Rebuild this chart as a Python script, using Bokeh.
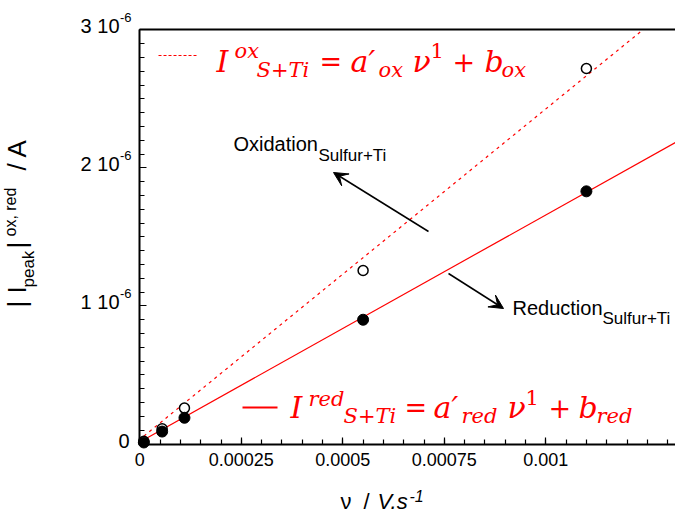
import math
from bokeh.plotting import figure
from bokeh.models import (Range1d, LinearAxis, FixedTicker, CustomJSTickFormatter,
                          Label, Arrow, VeeHead)
from bokeh.embed import file_html
from bokeh.resources import INLINE

# ---------------- data ----------------
scan_rate = [0.00001, 0.000055, 0.00011, 0.00055, 0.0011]          # V/s
i_ox = [0.02e-6, 0.11e-6, 0.26e-6, 1.257e-6, 2.72e-6]              # A (open circles)
i_red = [0.011e-6, 0.09e-6, 0.19e-6, 0.90e-6, 1.83e-6]             # A (filled circles)
fit_ox = [2.394e-3, 0.033e-6]    # slope, intercept
fit_red = [1.644e-3, 0.015e-6]   # slope, intercept
x_ticks = [0, 0.00025, 0.0005, 0.00075, 0.001]
x_minor = [k * 0.00005 for k in range(0, 28)]
y_ticks = [0, 1e-6, 2e-6, 3e-6]
y_tick_mant = ["0", "1 10", "2 10", "3 10"]
y_tick_exp = ["", "-6", "-6", "-6"]
y_minor = [k * 1e-7 for k in range(0, 31)]
Y_TOP = 3e-6

# ---------------- layout (canvas pixels -> data) ----------------
W, H = 675, 514
AX_X0, AX_Y0 = 139.3, 443.5       # pixel of x=0 / y=0
PX_PER_X = 406.0 / 1e-3
PX_PER_Y = 138.07 / 1e-6
SHIFT = 10                        # compensates label baseline placement
SHIFT_ROT = 16

def dx(px):
    return (px - AX_X0) / PX_PER_X

def dy(py):
    return (AX_Y0 - py) / PX_PER_Y

X_RIGHT = dx(W)
RED = "#ff0000"
SANS = "Liberation Sans"
SERIF = "DejaVu Serif"

p = figure(width=W, height=H, output_backend="svg", toolbar_location=None,
           x_range=Range1d(dx(0), dx(W)), y_range=Range1d(dy(H), dy(0)),
           min_border_left=0, min_border_right=0, min_border_top=0,
           min_border_bottom=0, x_axis_type=None, y_axis_type=None)
p.outline_line_color = None
p.grid.visible = False
p.background_fill_color = "white"

xaxis = LinearAxis(ticker=FixedTicker(ticks=x_ticks, minor_ticks=x_minor),
                   fixed_location=0, bounds=(0, X_RIGHT),
                   formatter=CustomJSTickFormatter(code="return String(Number(tick.toPrecision(6)));"))
yaxis = LinearAxis(ticker=FixedTicker(ticks=y_ticks, minor_ticks=y_minor),
                   fixed_location=0, bounds=(0, Y_TOP),
                   formatter=CustomJSTickFormatter(code="return '';"))
for ax in (xaxis, yaxis):
    ax.axis_line_width = 2
    ax.axis_line_color = "black"
    ax.major_tick_in = 7
    ax.major_tick_out = 0
    ax.minor_tick_in = 5
    ax.minor_tick_out = 0
    ax.major_tick_line_width = 1.2
    ax.minor_tick_line_width = 1.2
    ax.major_label_text_font = SANS
    ax.major_label_text_font_size = "18px"
    ax.major_label_text_color = "black"
xaxis.major_label_standoff = 9
yaxis.major_label_text_font_size = "0px"
p.add_layout(xaxis, "below")
p.add_layout(yaxis, "left")
top = LinearAxis(ticker=FixedTicker(ticks=[]), fixed_location=Y_TOP, bounds=(0, X_RIGHT),
                 major_label_text_font_size="0px", axis_line_width=2,
                 major_tick_line_color=None, minor_tick_line_color=None)
p.add_layout(top, "above")

# ---------------- fit lines ----------------
ox_end = min(X_RIGHT, (Y_TOP - fit_ox[1]) / fit_ox[0])
fx_ox = [scan_rate[0], ox_end]
fx_red = [scan_rate[0], X_RIGHT]
p.line(fx_ox, [fit_ox[0] * x + fit_ox[1] for x in fx_ox], line_color=RED, line_width=1.2,
       line_dash="3 4")
p.line(fx_red, [fit_red[0] * x + fit_red[1] for x in fx_red], line_color=RED, line_width=1.2)

# ---------------- points ----------------
p.scatter(scan_rate, i_ox, size=10, marker="circle", fill_color="white",
          line_color="black", line_width=1.5)
p.scatter(scan_rate, i_red, size=11, marker="circle", fill_color="black",
          line_color="black")

# ---------------- legend swatches ----------------
p.line([dx(158), dx(196)], [dy(55), dy(55)], line_color=RED, line_width=1, line_dash="3 2")
p.line([dx(242), dx(277)], [dy(407), dy(407)], line_color=RED, line_width=2)

def lab(text, xp, yp, size, font=SANS, style="normal", color="black", angle=0,
        align="left", y_data=None):
    if angle == 0:
        yy = dy(yp - SHIFT) if y_data is None else y_data + SHIFT / PX_PER_Y
        xx = dx(xp)
    else:
        yy = dy(yp)
        xx = dx(xp - SHIFT_ROT)
    p.add_layout(Label(x=xx, y=yy, text=text, text_font=font,
                       text_font_size=f"{size}px", text_font_style=style,
                       text_color=color, text_align=align, text_baseline="alphabetic",
                       angle=angle))

# y tick labels (mantissa + superscript exponent)
for t, m, e in zip(y_ticks, y_tick_mant, y_tick_exp):
    if e:
        lab(m, 119, 0, 20, align="right", y_data=t - 6 / PX_PER_Y)
        lab(e, 119.5, 0, 13, y_data=t + 2 / PX_PER_Y)
    else:
        lab(m, 129, 0, 20, align="right", y_data=t - 6.5 / PX_PER_Y)

# equations
top_eq = [("I", 216, 71, 30, "italic"), ("ox", 234, 60, 21, "italic"),
          ("S+Ti", 256, 79, 21, "italic"), ("=", 319, 71, 27, "normal"),
          ("a\u2032", 350, 71, 30, "italic"), ("ox", 378, 79, 21, "italic"),
          ("\u03bd", 412, 71, 30, "italic"), ("1", 430, 60, 21, "normal"),
          ("+", 452, 71, 27, "normal"), ("b", 484, 71, 30, "italic"),
          ("ox", 501, 79, 21, "italic")]
bot_eq = [("I", 290, 417, 30, "italic"), ("red", 308, 408, 21, "italic"),
          ("S+Ti", 343, 425, 21, "italic"), ("=", 404, 417, 27, "normal"),
          ("a\u2032", 433, 417, 30, "italic"), ("red", 461, 425, 21, "italic"),
          ("\u03bd", 507, 417, 30, "italic"), ("1", 525, 407, 21, "normal"),
          ("+", 548, 417, 27, "normal"), ("b", 578, 417, 30, "italic"),
          ("red", 596, 425, 21, "italic")]
for t, xp, yp, s, st in top_eq + bot_eq:
    lab(t, xp, yp, s, font=SERIF, style=st, color=RED)

# annotations
lab("Oxidation", 233, 153, 20)
lab("Sulfur+Ti", 318, 165, 17)
lab("Reduction", 512, 317, 20)
lab("Sulfur+Ti", 602, 328, 17)
p.add_layout(Arrow(end=VeeHead(size=14, fill_color="black", line_color="black"),
                   x_start=dx(428), y_start=dy(231), x_end=dx(333), y_end=dy(172),
                   line_width=1.5, line_color="black"))
p.add_layout(Arrow(end=VeeHead(size=14, fill_color="black", line_color="black"),
                   x_start=dx(448), y_start=dy(273), x_end=dx(503), y_end=dy(308),
                   line_width=1.5, line_color="black"))

# axis titles
lab("\u03bd", 340, 511, 22)
lab("/", 363, 511, 22)
lab("V.s", 377, 511, 22, style="italic")
lab("-1", 409, 505, 16, style="italic")

A = math.pi / 2
lab("| I", 32, 307, 26, angle=A)
lab("peak", 44, 287, 17, angle=A)
lab("|", 32, 248, 26, angle=A)
lab("ox, red", 26, 236, 16, angle=A)
lab("/ A", 32, 170, 26, angle=A)

open("out.html", "w").write(file_html(p, INLINE))
